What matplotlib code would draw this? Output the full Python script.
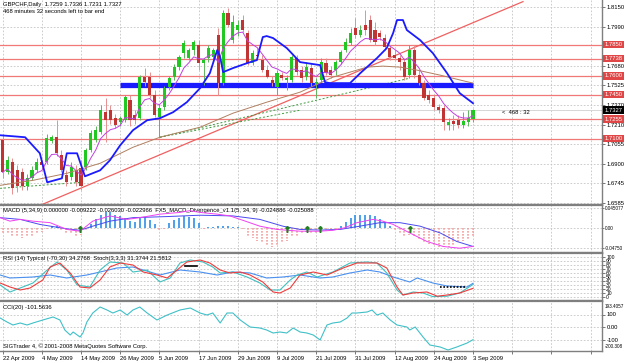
import numpy as np
import pandas as pd
import matplotlib
matplotlib.use("Agg")
import matplotlib.pyplot as plt
import matplotlib.transforms as mtrans

plt.rcParams['font.family'] = ['Liberation Sans', 'DejaVu Sans']
FS = 4.2

# ---- daily candles, 22 Apr 2009 .. 3 Sep 2009 (bar index 0..96) ----
opens = [1.7086, 1.6830, 1.6910, 1.6846, 1.6830, 1.6718, 1.6782, 1.6846, 1.6910, 1.6910,
         1.7078, 1.7110, 1.6966, 1.6806, 1.6790, 1.6846, 1.6862, 1.6870, 1.7006, 1.7086,
         1.7150, 1.7310, 1.7326, 1.7262, 1.7230, 1.7246, 1.7406, 1.7286, 1.7262, 1.7590,
         1.7590, 1.7446, 1.7270, 1.7350, 1.7510, 1.7590, 1.7670, 1.7782, 1.7742, 1.7806,
         1.7846, 1.7702, 1.7742, 1.7750, 1.7926, 1.7542, 1.8102, 1.7886, 1.7966, 1.8046,
         1.7942, 1.7702, 1.7766, 1.7726, 1.7646, 1.7566, 1.7510, 1.7606, 1.7566, 1.7566,
         1.7742, 1.7646, 1.7590, 1.7662, 1.7526, 1.7566, 1.7702, 1.7646, 1.7646, 1.7710,
         1.7806, 1.7862, 1.7982, 1.7926, 1.8006, 1.8046, 1.7966, 1.7942, 1.7902, 1.7822,
         1.7766, 1.7742, 1.7710, 1.7606, 1.7806, 1.7606, 1.7542, 1.7446, 1.7422, 1.7350,
         1.7342, 1.7206, 1.7238, 1.7246, 1.7206, 1.7230, 1.7259]
highs = [1.7134, 1.6958, 1.6942, 1.6886, 1.6862, 1.6814, 1.6878, 1.6942, 1.6926, 1.7134,
         1.7126, 1.7246, 1.7006, 1.6846, 1.6910, 1.6886, 1.6926, 1.7022, 1.7166, 1.7198,
         1.7366, 1.7422, 1.7366, 1.7294, 1.7278, 1.7446, 1.7446, 1.7326, 1.7606, 1.7662,
         1.7630, 1.7486, 1.7374, 1.7518, 1.7598, 1.7694, 1.7766, 1.7886, 1.7822, 1.7886,
         1.7886, 1.7742, 1.7846, 1.7822, 1.7982, 1.8126, 1.8142, 1.8086, 1.8046, 1.8086,
         1.7966, 1.7806, 1.7822, 1.7766, 1.7686, 1.7598, 1.7646, 1.7630, 1.7606, 1.7766,
         1.7766, 1.7678, 1.7710, 1.7702, 1.7582, 1.7742, 1.7742, 1.7678, 1.7726, 1.7806,
         1.7902, 1.7982, 1.8062, 1.8006, 1.8126, 1.8086, 1.8030, 1.7966, 1.7934, 1.7846,
         1.7806, 1.7766, 1.7742, 1.7846, 1.7846, 1.7646, 1.7566, 1.7486, 1.7446, 1.7374,
         1.7366, 1.7262, 1.7286, 1.7286, 1.7310, 1.7326, 1.7336]
lows = [1.6782, 1.6814, 1.6654, 1.6670, 1.6686, 1.6686, 1.6766, 1.6830, 1.6862, 1.6894,
        1.7062, 1.6958, 1.6830, 1.6718, 1.6766, 1.6718, 1.6686, 1.6846, 1.6990, 1.7070,
        1.7134, 1.7070, 1.7214, 1.7182, 1.7198, 1.7230, 1.7198, 1.7214, 1.7246, 1.7518,
        1.7422, 1.7270, 1.7110, 1.7326, 1.7486, 1.7566, 1.7646, 1.7742, 1.7726, 1.7766,
        1.7646, 1.7526, 1.7710, 1.7710, 1.7446, 1.7526, 1.7990, 1.7862, 1.7918, 1.7950,
        1.7686, 1.7686, 1.7742, 1.7630, 1.7582, 1.7518, 1.7446, 1.7566, 1.7486, 1.7550,
        1.7606, 1.7550, 1.7566, 1.7518, 1.7422, 1.7550, 1.7606, 1.7582, 1.7606, 1.7694,
        1.7790, 1.7846, 1.7902, 1.7910, 1.7926, 1.7870, 1.7846, 1.7886, 1.7806, 1.7726,
        1.7726, 1.7646, 1.7566, 1.7582, 1.7582, 1.7526, 1.7406, 1.7382, 1.7326, 1.7302,
        1.7166, 1.7166, 1.7166, 1.7182, 1.7182, 1.7198, 1.7231]
closes = [1.6830, 1.6926, 1.6702, 1.6718, 1.6718, 1.6782, 1.6846, 1.6910, 1.6886, 1.7102,
          1.7110, 1.6982, 1.6846, 1.6750, 1.6870, 1.6750, 1.6718, 1.7006, 1.7142, 1.7166,
          1.7326, 1.7246, 1.7246, 1.7206, 1.7262, 1.7430, 1.7246, 1.7246, 1.7590, 1.7550,
          1.7446, 1.7286, 1.7342, 1.7502, 1.7582, 1.7670, 1.7750, 1.7862, 1.7806, 1.7870,
          1.7702, 1.7726, 1.7822, 1.7806, 1.7542, 1.8102, 1.8006, 1.8030, 1.8006, 1.7966,
          1.7702, 1.7782, 1.7758, 1.7646, 1.7590, 1.7542, 1.7622, 1.7582, 1.7582, 1.7750,
          1.7630, 1.7582, 1.7670, 1.7542, 1.7550, 1.7710, 1.7622, 1.7606, 1.7710, 1.7790,
          1.7870, 1.7942, 1.7926, 1.7966, 1.7966, 1.7886, 1.7870, 1.7910, 1.7830, 1.7750,
          1.7742, 1.7710, 1.7590, 1.7806, 1.7606, 1.7542, 1.7422, 1.7406, 1.7350, 1.7326,
          1.7230, 1.7230, 1.7214, 1.7206, 1.7238, 1.7262, 1.7327]

date_labels = ["22 Apr 2009", "4 May 2009", "14 May 2009", "26 May 2009", "5 Jun 2009",
               "17 Jun 2009", "29 Jun 2009", "9 Jul 2009", "21 Jul 2009", "31 Jul 2009",
               "12 Aug 2009", "24 Aug 2009", "3 Sep 2009"]
date_bars = [0, 8, 16, 24, 32, 40, 48, 56, 64, 72, 80, 88, 96]

# indicator lines (bar, value)
blue_env_bar = [-0.5, 2.1, 4.6, 7.6, 9.1, 12.1, 13.1, 15.2, 16.8, 19.9, 21.9, 24, 26.6, 29.5, 32.1,
                34.8, 37.6, 40.3, 42.3, 43.8, 44.4, 45, 47, 49.9, 51.9, 52.5, 53.1, 53.9, 55.2,
                58, 60.7, 64.8, 65.8, 66.8, 70.9, 73, 76.4, 78.4, 79.7, 80.5, 81.7, 82.5, 85.2,
                87.8, 90.7, 93.3, 96]
blue_env_val = [1.7126, 1.7118, 1.7110, 1.6982, 1.6750, 1.6782, 1.6982, 1.6982, 1.6798, 1.6846,
                1.6926, 1.7046, 1.7166, 1.7246, 1.7262, 1.7310, 1.7390, 1.7502, 1.7622, 1.7806,
                1.7750, 1.7630, 1.7662, 1.7702, 1.7726, 1.7822, 1.7910, 1.7918, 1.7902, 1.7822,
                1.7710, 1.7686, 1.7550, 1.7542, 1.7542, 1.7622, 1.7742, 1.7822, 1.7942, 1.8046,
                1.8046, 1.7966, 1.7886, 1.7782, 1.7622, 1.7462, 1.7382]
slow_ma_bar = [-0.5, 6.2, 13.1, 19.9, 26.6, 32.1, 40.3, 47, 53.9, 60.7, 67.4, 74.4, 77.6, 81.1,
               84.6, 89.3, 96]
slow_ma_val = [1.6726, 1.6766, 1.6822, 1.6902, 1.7030, 1.7110, 1.7190, 1.7302, 1.7390, 1.7470,
               1.7590, 1.7670, 1.7678, 1.7670, 1.7646, 1.7606, 1.7542]

levels = [1.7850, 1.7738, 1.7600, 1.7450, 1.7255, 1.7100]
support_band = 1.7526
price_ticks = [1.8150, 1.7990, 1.7680, 1.7525, 1.7370, 1.7210, 1.7055, 1.6900, 1.6745, 1.6585]

# MACD panel
macd_hist = [-0.012, -0.015, -0.020, -0.022, -0.024, -0.022, -0.018, -0.014, -0.010, -0.004,
             0.004, 0.003, -0.006, -0.012, -0.015, -0.018, -0.016, -0.006, 0.008, 0.020,
             0.030, 0.035, 0.036, 0.030, 0.026, 0.022, 0.016, 0.012, 0.022, 0.024,
             0.018, 0.008, -0.006, -0.004, 0.010, 0.018, 0.022, 0.026, 0.025, 0.022,
             0.010, -0.002, 0.002, 0.002, 0.003, 0.004, 0.003, 0.002, 0.001, -0.004,
             -0.018, -0.024, -0.030, -0.036, -0.042, -0.044, -0.040, -0.034, -0.030, -0.022,
             -0.018, -0.014, -0.010, -0.012, -0.012, -0.008, -0.006, -0.006, -0.004, 0.004,
             0.014, 0.022, 0.028, 0.030, 0.030, 0.028, 0.026, 0.020, 0.012, 0.004,
             -0.008, -0.014, -0.018, -0.016, -0.022, -0.028, -0.034, -0.038, -0.042, -0.044,
             -0.045, -0.044, -0.040, -0.034, -0.030, -0.026, -0.022]
macd_sig_bar = [-0.5, 3.6, 7.6, 13.1, 15.8, 18.4, 21.9, 26.6, 33.6, 40.3, 47, 52.5, 57.2, 60.7,
                64.8, 68.9, 72.9, 77, 81.1, 85.2, 89.3, 92.7, 96]
macd_sig_val = [0.023, 0.019, 0.0075, -0.0026, -0.0059, 0.0035, 0.015, 0.023, 0.0255, 0.0286,
                0.027, 0.019, 0.0035, -0.004, -0.0054, -0.004, 0.0035, 0.0115, 0.0115, 0.0035,
                -0.012, -0.0316, -0.043]
macd_fast_bar = [-0.5, 1.5, 3.6, 6.2, 9.7, 13.1, 15.8, 18.4, 21.9, 25.4, 28, 32.1, 36.2, 38.2,
                 40.3, 43.8, 46.4, 48.5, 52.5, 56, 60.7, 64.8, 67.4, 69.9, 72.3, 75.6, 77.6,
                 79.7, 83.1, 86.6, 89.9, 93.3, 96]
macd_fast_val = [0.023, 0.015, 0.019, 0.015, 0.0115, -0.004, -0.008, 0.015, 0.027, 0.019, 0.023,
                 0.031, 0.035, 0.039, 0.035, 0.031, 0.027, 0.019, 0.0035, -0.004, -0.008, -0.008,
                 -0.006, 0.0, 0.0115, 0.019, 0.015, 0.0075, -0.012, -0.0316, -0.043, -0.047,
                 -0.043]
macd_arrows = [15.8, 58, 62.1, 64.8, 83.1]

# RSI / Stochastic panel
rsi_bar = [-0.5, 1.5, 6.2, 9.7, 13.1, 17.2, 19.9, 23.3, 26.6, 30.1, 32.1, 36.2, 40.3, 43.8, 47,
           50.5, 53.9, 57.2, 60.7, 64.8, 67.4, 70.9, 74.4, 77, 79.7, 83.1, 84.6, 87.8, 90.7,
           94.8, 96]
rsi_val = [55, 47.5, 50, 55, 47.5, 55, 62.5, 72.5, 75, 62.5, 55, 67.5, 62.5, 55, 62.5, 60, 47.5,
           50, 55, 47.5, 50, 60, 67.5, 62.5, 50, 37.5, 47.5, 35, 27.5, 25, 34.3]
stoch_sig_bar = [-0.5, 1.5, 3.6, 5.6, 8.2, 9.7, 11.7, 13.8, 15.8, 17.8, 19.9, 21.9, 24, 26.6,
                 28.7, 31.5, 33.6, 35.6, 37.6, 40.3, 42.3, 44.4, 46.4, 48.5, 50.5, 53.1, 55.2,
                 56.6, 58.7, 60.7, 63.4, 66.2, 69.5, 72.3, 76.4, 78.4, 80.5, 81.7, 83.8, 86.6,
                 88.7, 90.7, 93.3, 96]
stoch_sig_val = [35, 25, 17.5, 22.5, 42.5, 75, 85, 60, 25, 22.5, 42.5, 75, 85, 80, 62.5, 55,
                 47.5, 67.5, 87.5, 92.5, 85, 67.5, 60, 62.5, 55, 37.5, 12.5, 10, 22.5, 55, 62.5,
                 55, 72.5, 85, 85, 72.5, 25, 5, 10, 12.5, 2, 5, 10, 21.6]
stoch_main_bar = [-0.5, 1.5, 3.6, 6.2, 9.1, 11.1, 13.1, 15.2, 17.8, 19.9, 21.9, 24.6, 26.6,
                  29.5, 32.1, 34.2, 36.2, 38.3, 40.9, 42.9, 44.4, 47, 49.9, 52.5, 54.6, 56.6,
                  58.7, 60.1, 62.1, 64.2, 67.4, 70.9, 74.4, 76.4, 78.4, 80.5, 81.7, 83.8, 85.8,
                  87.8, 90.7, 93.3, 96]
stoch_main_val = [30, 12.5, 22.5, 35, 67.5, 87.5, 67.5, 30, 25, 67.5, 87.5, 85, 62.5, 67.5,
                  37.5, 47.5, 85, 92.5, 87.5, 75, 60, 62.5, 50, 35, 17.5, 17.5, 42.5, 55, 62.5,
                  50, 62.5, 85, 87.5, 85, 60, 17.5, 5, 12.5, 10, 1, 2, 10, 31.4]

# CCI panel
cci_bar = [-0.5, 0.9, 2.1, 3.6, 5, 6.2, 8.2, 10.3, 11.7, 12.7, 13.8, 14.4, 15.8, 16.4, 17.2,
           18.4, 19.9, 21.3, 22.5, 24, 25.4, 26.6, 28, 29.5, 31.5, 33.6, 36.2, 38.3, 40.3, 41.7,
           42.9, 44.4, 45.8, 47, 48.5, 50.5, 52.5, 53.9, 55.2, 56.6, 58, 59.3, 60.7, 62.1, 63.4,
           64.8, 66.2, 67.4, 68.9, 70.3, 71.3, 72.3, 74.4, 75.4, 76.4, 77.6, 79.1, 80.5, 82.5,
           83.1, 84.2, 85.8, 87.2, 89.3, 90.9, 92.7, 94.8, 96]
cci_val = [72, 40, 16, 32, 16, 32, 56, 80, 56, -24, -64, -40, -80, -48, 40, 112, 160, 136, 112,
           136, 96, 136, 160, 112, 56, 96, 136, 152, 112, 96, 112, 32, 112, 112, 56, 0, -8, -24,
           -48, -40, -48, -8, -40, -48, -64, -104, 16, 32, 40, 72, 112, 112, 120, 136, 96, 112,
           56, 16, 0, -24, 0, -80, -144, -160, -184, -160, -128, -101.56]

# ---------------------------------------------------------------
W, H = 625, 363
XMIN, XMAX = -2.6 / 4.9, (602 - 2.6) / 4.9
grid_bars = list(range(0, 121, 8))
GRID = dict(color='#c4c4c4', ls=(0, (2, 2)), lw=0.6)
SEP = '#7f7f7f'
FS_EDGE = 3.3   # long right-hand labels, kept inside the picture

fig = plt.figure(figsize=(6.25, 3.63), dpi=100)


def panel(top, bottom):
    a = fig.add_axes([0, 1 - bottom / H, 602 / W, (bottom - top) / H])
    a.set_xlim(XMIN, XMAX)
    a.spines['left'].set_visible(False)
    for s in ('top', 'bottom'):
        a.spines[s].set_color(SEP)
        a.spines[s].set_linewidth(1.6)
    a.spines['right'].set_color(SEP)
    a.spines['right'].set_linewidth(1.0)
    a.tick_params(axis='y', left=False, labelleft=False, right=True, labelright=True,
                  length=2, width=0.6, pad=1.5, labelsize=FS, color='#606060')
    a.tick_params(axis='x', bottom=False, labelbottom=False, length=0)
    a.set_xticks(grid_bars)
    a.grid(True, **GRID)
    a.set_axisbelow(True)
    return a


blend = lambda a: mtrans.blended_transform_factory(a.transAxes, a.transData)

# ---- price panel ----
ax = panel(0, 205)
ax.spines['top'].set_visible(False)
ax.set_ylim(1.6569, 1.8206)
ax.set_yticks(price_ticks)
ax.set_yticklabels([f'{t:.4f}' for t in price_ticks])

for lv in levels:
    ax.axhline(lv, color='#f07878', lw=0.9, zorder=1)
    ax.text(1.004, lv, f'{lv:.4f}', transform=blend(ax), ha='left', va='center', fontsize=FS,
            color='white', clip_on=False, zorder=6,
            bbox=dict(boxstyle='square,pad=0.2', fc='#e04646', ec='none'))
ax.axhline(closes[-1], color='#d0d0d0', lw=0.6, zorder=1)
ax.text(1.004, closes[-1], f'{closes[-1]:.4f}', transform=blend(ax), ha='left', va='center',
        fontsize=FS, color='white', clip_on=False, zorder=6,
        bbox=dict(boxstyle='square,pad=0.2', fc='black', ec='none'))

# trendlines
ax.plot([7.63, 106.2], [1.6566, 1.8193], color='#f06060', lw=0.9, zorder=2)
ax.plot([-0.5, 16], [1.6702, 1.6750], color='#3c9a3c', lw=0.7, ls=(0, (2, 2)), zorder=2)
ax.plot([32.1, 83.1], [1.7110, 1.7582], color='#3c9a3c', lw=0.7, ls=(0, (2, 2)), zorder=2)
ax.plot([32.1, 60.7], [1.7110, 1.7326], color='#3c9a3c', lw=0.7, ls=(0, (2, 2)), zorder=2)
ax.plot([24, 96], [support_band, support_band], color='#1a1aff', lw=3.8, zorder=3,
        solid_capstyle='butt')

# candles
o, h, l, c = map(np.array, (opens, highs, lows, closes))
idx = np.arange(len(c))
up = c >= o
ax.vlines(idx[up], l[up], h[up], color='#5fb55f', lw=0.7, zorder=4)
ax.vlines(idx[~up], l[~up], h[~up], color='#e89090', lw=0.7, zorder=4)
bb = np.minimum(o, c)
bh = np.maximum(np.abs(c - o), 0.0004)
ax.bar(idx[up], bh[up], 0.62, bottom=bb[up], color='#22c822', lw=0, zorder=5)
ax.bar(idx[~up], bh[~up], 0.62, bottom=bb[~up], color='#c03434', lw=0, zorder=5)

# moving averages
fast_ma = pd.Series(closes).ewm(span=6, adjust=False).mean()
ax.plot(idx, fast_ma, color='#c040e0', lw=0.7, zorder=6)
ax.plot(slow_ma_bar, slow_ma_val, color='#b08060', lw=0.7, zorder=6)
ax.plot(blue_env_bar, blue_env_val, color='#1a1aff', lw=1.3, zorder=6)

ax.text(0.005, 0.99, 'GBPCHF,Daily  1.7259 1.7336 1.7231 1.7327', transform=ax.transAxes,
        fontsize=FS, va='top', ha='left')
ax.text(0.005, 0.955, '468 minutes 32 seconds left to bar end', transform=ax.transAxes,
        fontsize=FS, va='top', ha='left')
ax.text(102, 1.7308, '<  468 : 32', fontsize=FS, va='center', ha='left')

# ---- MACD panel ----
am = panel(205, 253)
am.set_ylim(-0.058, 0.052)
am.set_yticks([0.045077, 0.0, -0.0475])
am.set_yticklabels(['0.045077', '0.00', '-0.04750'])
am.tick_params(axis='y', length=1.2, pad=0.6)
for t in am.get_yticklabels():
    t.set_fontsize(FS_EDGE)
hist = np.array(macd_hist)
am.vlines(idx[hist >= 0], 0, hist[hist >= 0], color='#2f8fe8', lw=1.2, zorder=3)
am.vlines(idx[hist < 0], 0, hist[hist < 0], color='#f4a0a0', lw=1.2, ls=(0, (1, 0.8)), zorder=3)
am.plot(macd_sig_bar, macd_sig_val, color='#4a4af0', lw=0.7, zorder=4)
am.plot(macd_fast_bar, macd_fast_val, color='#f040f0', lw=0.7, zorder=4)
am.plot(macd_arrows, [-0.004] * len(macd_arrows), ls='none', marker=r'$\uparrow$',
        color='#208020', ms=4, zorder=5)
am.text(0.005, 0.93, 'MACD (5,34,9) 0.000000 -0.009222 -0.026030 -0.022966  '
        'FX5_MACD_Divergence_v1.1(5, 34, 9) -0.024886 -0.025088',
        transform=am.transAxes, fontsize=FS, va='top', ha='left')

# ---- RSI panel ----
ar = panel(253, 301)
ar.set_ylim(-10, 110)
ar.set_yticks(list(range(0, 101, 10)))
ar.set_yticklabels([str(v) for v in range(0, 101, 10)])
ar.tick_params(axis='y', labelsize=3.6, pad=1)
ar.plot(rsi_bar, rsi_val, color='#4a90f0', lw=0.8)
ar.plot(stoch_main_bar, stoch_main_val, color='#40c0c0', lw=0.8)
ar.plot(stoch_sig_bar, stoch_sig_val, color='#f03c3c', lw=0.8)
ar.plot([37.3, 39.7], [77, 77], color='black', lw=1.2)
ar.plot([89.3, 94.4], [25, 25], color='black', lw=1.2, ls=(0, (1, 1)))
ar.text(0.005, 0.93, 'RSI (14) Typical (-70,30) 34.2768  Stoch(3,3,3) 31.3744 21.5812',
        transform=ar.transAxes, fontsize=FS, va='top', ha='left')

# ---- CCI panel ----
ac = panel(301, 351)
ac.spines['bottom'].set_linewidth(1.0)
ac.set_ylim(-192, 208)
ac.set_yticks([100, 0, -100])
ac.set_yticklabels(['100', '0.00', '-100'])
ac.text(1.004, 0.88, '193.4057', transform=ac.transAxes, fontsize=FS_EDGE, va='center',
        ha='left', clip_on=False)
ac.text(1.004, 0.08, '-200.308', transform=ac.transAxes, fontsize=FS_EDGE, va='center',
        ha='left', clip_on=False)
ac.plot(cci_bar, cci_val, color='#40c0c8', lw=0.8)
ac.text(0.005, 0.93, 'CCI(20) -101.5636', transform=ac.transAxes, fontsize=FS, va='top',
        ha='left')
ac.text(0.005, 0.04, 'SIGTrader 4, \u00a9 2001-2008 MetaQuotes Software Corp.',
        transform=ac.transAxes, fontsize=FS, va='bottom', ha='left')
ac.tick_params(axis='x', bottom=True, labelbottom=True, length=2, width=0.6, pad=1.5,
               labelsize=FS, color='#606060')
ac.set_xticklabels([date_labels[date_bars.index(b)] if b in date_bars else ''
                    for b in grid_bars], ha='left')

fig.savefig('out.png', dpi=100, facecolor='white')
